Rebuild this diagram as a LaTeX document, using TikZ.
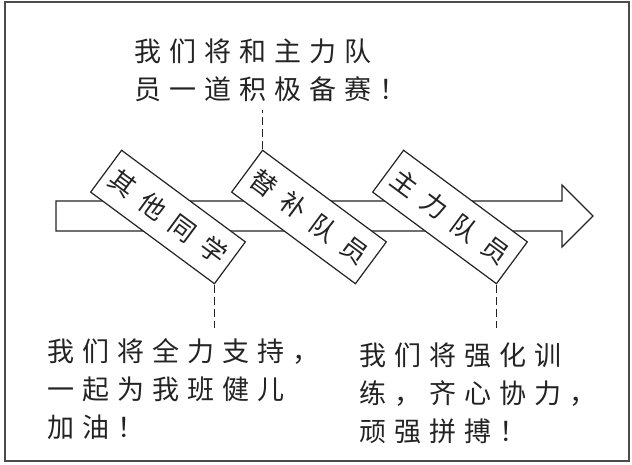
\documentclass[tikz,border=0pt]{standalone}
\usepackage{fontspec}
\usepackage{tikz}
\usetikzlibrary{positioning}
\newfontfamily\notefont[LetterSpace=30]{Noto Sans CJK SC}
\newfontfamily\tagfont[LetterSpace=45]{Noto Sans CJK SC}
\definecolor{penink}{RGB}{35,35,35}

\begin{document}
\begin{tikzpicture}[
  x=1pt, y=-1pt,
  tag/.style={draw=penink, fill=white, line width=1.2pt, rotate=-36.5,
              minimum width=154pt, minimum height=52pt, inner sep=0pt,
              font=\tagfont\fontsize{26}{26}\selectfont, text=penink},
  note/.style={align=left, inner sep=0pt, anchor=north west, text=penink,
               font=\notefont\fontsize{27}{38}\selectfont},
  dashline/.style={draw=penink, line width=1.2pt, dash pattern=on 8pt off 4pt},
  flow/.style={draw=penink, fill=white, line width=1.2pt}
]
\useasboundingbox (0,0) rectangle (632,465);
\draw[line width=1.6pt, draw=black!70] (5,2) rectangle (629,461);
% long arrow behind the three tags
\draw[flow] (56,201) -- (562,201) -- (562,185) -- (593,216) -- (562,247)
  -- (562,231) -- (56,231) -- cycle;
\node[tag] (others) at (168,217) {其他同学};
\node[tag] (subs) at (309,217) {替补队员};
\node[tag] (main) at (450,217) {主力队员};
% what each group says
\node[note] (subsnote) at (134,39) {我们将和主力队\\员一道积极备赛！};
\node[note] (othersnote) at (47,338) {我们将全力支持，\\一起为我班健儿\\加油！};
\node[note] (mainnote) at (359,343) {我们将强化训\\练，齐心协力，\\顽强拼搏！};
\path (subs.north west) ++(0,-39) coordinate (subsend);
\path (others.south east) ++(0,43) coordinate (othersend);
\path (main.south east) ++(0,43) coordinate (mainend);
\draw[dashline] (subs.north west) -- (subsend);
\draw[dashline] (others.south east) -- (othersend);
\draw[dashline] (main.south east) -- (mainend);
\end{tikzpicture}
\end{document}
